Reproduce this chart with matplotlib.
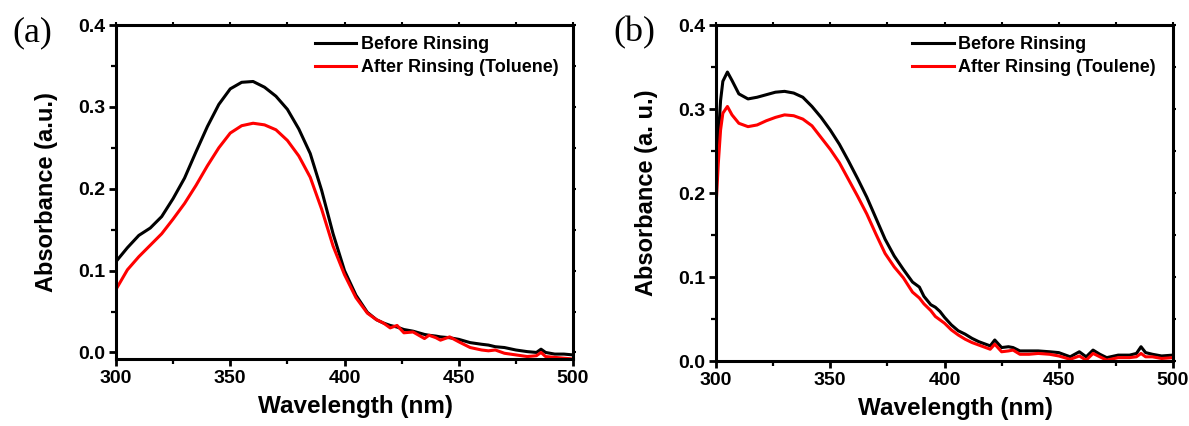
import matplotlib
matplotlib.use("Agg")
import matplotlib.pyplot as plt
from matplotlib.ticker import MultipleLocator

# ---------------- data ----------------
wl_a = [300, 305, 310, 315, 320, 325, 330, 335, 340, 345, 350, 355, 360, 365, 370,
        375, 380, 385, 390, 395, 400, 405, 410, 414, 417, 420, 423, 426, 430, 435,
        437, 440, 442, 446, 450, 455, 460, 463, 466, 470, 475, 480, 484, 486, 488,
        492, 496, 500]
before_a = [0.111, 0.128, 0.143, 0.152, 0.166, 0.188, 0.213, 0.245, 0.276, 0.303,
            0.322, 0.330, 0.331, 0.324, 0.313, 0.297, 0.273, 0.243, 0.198, 0.145,
            0.100, 0.070, 0.049, 0.040, 0.036, 0.033, 0.031, 0.028, 0.026, 0.022,
            0.021, 0.020, 0.019, 0.018, 0.016, 0.012, 0.010, 0.009, 0.007, 0.006,
            0.003, 0.001, 0.000, 0.004, 0.000, -0.002, -0.002, -0.003]
after_a = [0.077, 0.101, 0.117, 0.131, 0.145, 0.163, 0.182, 0.204, 0.228, 0.250,
           0.268, 0.277, 0.280, 0.278, 0.272, 0.259, 0.240, 0.214, 0.175, 0.130,
           0.095, 0.067, 0.048, 0.040, 0.036, 0.030, 0.033, 0.024, 0.025, 0.017,
           0.021, 0.018, 0.015, 0.019, 0.013, 0.006, 0.003, 0.002, 0.003, -0.001,
           -0.003, -0.005, -0.004, 0.000, -0.005, -0.006, -0.007, -0.008]

wl_b = [300, 301, 302, 303, 305, 307, 310, 314, 318, 322, 326, 330, 334, 338, 342,
        346, 350, 354, 358, 362, 366, 370, 374, 378, 382, 386, 389, 391, 394, 396,
        398, 400, 403, 406, 409, 412, 415, 418, 420, 422, 425, 428, 430, 433, 437,
        441, 446, 450, 455, 459, 462, 465, 468, 471, 476, 481, 484, 486, 488, 491,
        495, 500]
before_b = [0.200, 0.265, 0.310, 0.333, 0.344, 0.334, 0.318, 0.312, 0.314, 0.317,
            0.320, 0.321, 0.319, 0.314, 0.303, 0.290, 0.275, 0.258, 0.238, 0.217,
            0.195, 0.170, 0.145, 0.125, 0.109, 0.094, 0.088, 0.077, 0.067, 0.064,
            0.059, 0.052, 0.043, 0.036, 0.032, 0.027, 0.023, 0.020, 0.018, 0.025,
            0.016, 0.017, 0.016, 0.012, 0.012, 0.012, 0.011, 0.010, 0.005, 0.011,
            0.005, 0.013, 0.008, 0.004, 0.007, 0.007, 0.009, 0.017, 0.010, 0.008,
            0.006, 0.007]
after_b = [0.183, 0.235, 0.275, 0.295, 0.303, 0.293, 0.283, 0.279, 0.281, 0.286,
           0.290, 0.293, 0.292, 0.288, 0.280, 0.266, 0.252, 0.236, 0.216, 0.196,
           0.175, 0.151, 0.128, 0.112, 0.099, 0.082, 0.075, 0.068, 0.060, 0.053,
           0.049, 0.045, 0.037, 0.031, 0.026, 0.022, 0.019, 0.016, 0.014, 0.020,
           0.011, 0.012, 0.013, 0.008, 0.008, 0.009, 0.008, 0.006, 0.002, 0.006,
           0.001, 0.009, 0.005, 0.001, 0.004, 0.004, 0.005, 0.009, 0.005, 0.005,
           0.003, 0.004]

labels_a = ["Before Rinsing", "After Rinsing (Toluene)"]
labels_b = ["Before Rinsing", "After Rinsing (Toulene)"]
ylabel_a = "Absorbance (a.u.)"
ylabel_b = "Absorbance (a. u.)"
xlabel = "Wavelength (nm)"

# ---------------- figure ----------------
plt.rcParams['font.family'] = ['Liberation Sans', 'DejaVu Sans']
plt.rcParams['font.weight'] = 'bold'

fig = plt.figure(figsize=(11.89, 4.26), dpi=100)
W, H = 1189, 426

def make_ax(x0, x1, y0, y1):
    return fig.add_axes([x0 / W, 1 - y1 / H, (x1 - x0) / W, (y1 - y0) / H])

ax_a = make_ax(116, 573, 25, 359)
ax_b = make_ax(716, 1173, 25, 361)

def style(ax, ylim, ylabel, leg_labels, leg_x, leg_y):
    ax.set_xlim(300, 500)
    ax.set_ylim(*ylim)
    ax.xaxis.set_major_locator(MultipleLocator(50))
    ax.xaxis.set_minor_locator(MultipleLocator(25))
    ax.yaxis.set_major_locator(MultipleLocator(0.1))
    ax.yaxis.set_minor_locator(MultipleLocator(0.05))
    ax.yaxis.set_major_formatter(plt.FuncFormatter(lambda v, p: f"{v:.1f}"))
    for s in ax.spines.values():
        s.set_linewidth(2.2)
    ax.tick_params(which='major', direction='out', length=5, width=2,
                   labelsize=14, pad=3)
    ax.tick_params(which='minor', direction='out', length=3.5, width=1.6)
    for lab in ax.get_xticklabels() + ax.get_yticklabels():
        lab.set_fontweight('bold')
    # mirrored short ticks on top and right
    top = ax.secondary_xaxis('top')
    top.xaxis.set_major_locator(MultipleLocator(25))
    top.tick_params(direction='out', length=2, width=1.5, labeltop=False)
    top.spines['top'].set_visible(False)
    right = ax.secondary_yaxis('right')
    right.yaxis.set_major_locator(MultipleLocator(0.05))
    right.tick_params(direction='out', length=2, width=1.5, labelright=False)
    right.spines['right'].set_visible(False)

    ax.set_xlabel(xlabel, fontsize=17.5, fontweight='bold')
    ax.set_ylabel(ylabel, fontsize=17, fontweight='bold', labelpad=14)
    ax.xaxis.set_label_coords(0.525, -0.108)
    leg = ax.legend(leg_labels, loc='upper left', bbox_to_anchor=(leg_x, leg_y),
                    frameon=False, fontsize=13, handlelength=2.3,
                    handletextpad=0.25, labelspacing=0.34, borderpad=0,
                    borderaxespad=0)
    for t in leg.get_texts():
        t.set_fontweight('bold')

ax_a.plot(wl_a, before_a, color='black', lw=2.2)
ax_a.plot(wl_a, after_a, color='#ff0000', lw=2.2)
style(ax_a, (-0.008, 0.4), ylabel_a, labels_a, 0.435, 0.967)

ax_b.plot(wl_b, before_b, color='black', lw=2.2)
ax_b.plot(wl_b, after_b, color='#ff0000', lw=2.2)
style(ax_b, (0.0, 0.4), ylabel_b, labels_b, 0.429, 0.967)

fig.text(12 / W, 1 - 33 / H, "(a)", fontsize=26, family='Liberation Serif',
         fontweight='normal', va='center', ha='left')
fig.text(613 / W, 1 - 33 / H, "(b)", fontsize=26, family='Liberation Serif',
         fontweight='normal', va='center', ha='left')

fig.savefig("out.png", dpi=100)
